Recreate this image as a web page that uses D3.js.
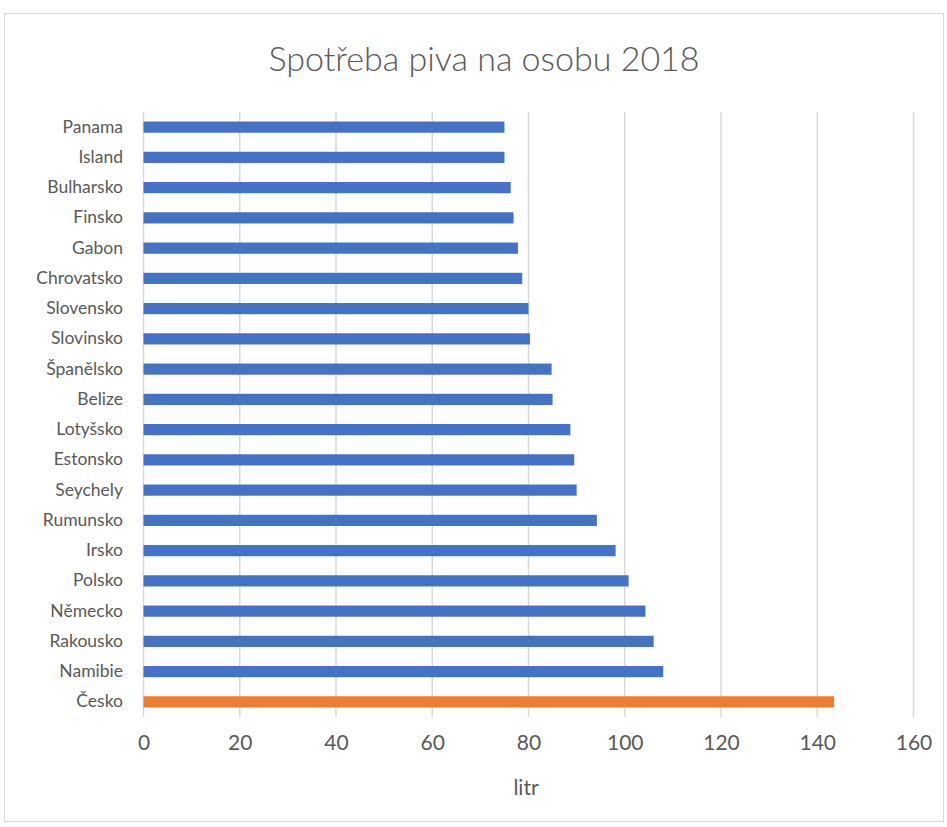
<!DOCTYPE html>
<html><head><meta charset="utf-8">
<script src="https://cdn.jsdelivr.net/npm/d3@7"></script>
<style>body{margin:0;background:#fff;} text{font-family:Lato,"Open Sans",sans-serif;}</style>
</head><body>
<svg id="c" width="947" height="827"></svg>
<script>
const countries = ["Panama","Island","Bulharsko","Finsko","Gabon","Chrovatsko","Slovensko","Slovinsko","Španělsko","Belize","Lotyšsko","Estonsko","Seychely","Rumunsko","Irsko","Polsko","Německo","Rakousko","Namibie","Česko"];
const litres = [75.0,75.0,76.3,76.9,77.8,78.7,80.0,80.3,84.8,85.0,88.7,89.5,90.0,94.2,98.1,100.8,104.3,106.0,108.0,143.5];
const highlight = ["Česko"];
const xTicks = [0,20,40,60,80,100,120,140,160];
const title = "Spotřeba piva na osobu 2018";
const xTitle = "litr";

const svg = d3.select("#c");
svg.append("rect").attr("x",4.5).attr("y",13.5).attr("width",939).attr("height",808)
  .attr("fill","#fff").attr("stroke","#d9d9d9").attr("stroke-width",1);

const x = d3.scaleLinear().domain([0,160]).range([143.5,913.5]);
const y = d3.scaleBand().domain(countries).range([112,717]).paddingInner(0.63).paddingOuter(0.315);

const g = svg.append("g");
g.selectAll("line.grid").data(xTicks).join("line")
  .attr("x1",d=>x(d)).attr("x2",d=>x(d)).attr("y1",112).attr("y2",717)
  .attr("stroke","#d9d9d9").attr("stroke-width",1.5);

g.selectAll("rect.bar").data(countries).join("rect")
  .attr("x",x(0)).attr("y",d=>y(d))
  .attr("width",(d,i)=>x(litres[i])-x(0)).attr("height",y.bandwidth())
  .attr("fill",d=>highlight.includes(d)?"#ED7D31":"#4472C4");

const xa = d3.axisBottom(x).tickValues(xTicks).tickSize(0).tickPadding(0);
const ax = svg.append("g").attr("transform","translate(0,735)").call(xa);
ax.select(".domain").remove();
ax.selectAll("text").attr("font-size",21).attr("fill","#595959").attr("dy","0.71em")
  .style("font-family","Lato,'Open Sans',sans-serif");

const ya = d3.axisLeft(y).tickSize(0).tickPadding(0);
const ay = svg.append("g").attr("transform","translate(123,0)").call(ya);
ay.select(".domain").remove();
ay.selectAll("text").attr("font-size",17.5).attr("fill","#595959")
  .style("font-family","Lato,'Open Sans',sans-serif");

svg.append("text").attr("x",484).attr("y",71).attr("text-anchor","middle")
  .attr("font-size",34).attr("font-weight",300).attr("fill","#595959").text(title);
svg.append("text").attr("x",526).attr("y",795).attr("text-anchor","middle")
  .attr("font-size",21).attr("fill","#595959").text(xTitle);
</script>
</body></html>
